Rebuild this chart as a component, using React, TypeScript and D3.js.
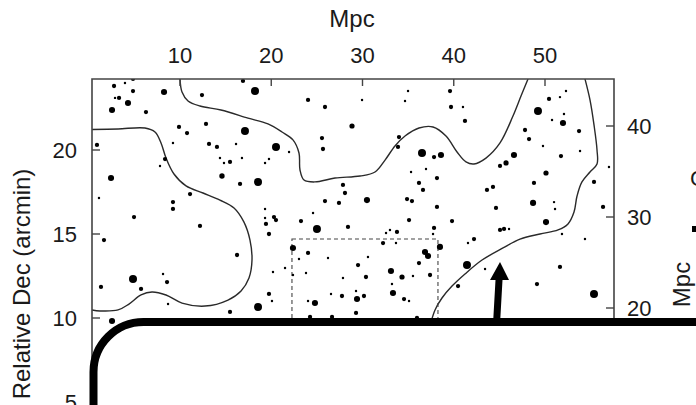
import React from "react";
import * as d3 from "d3";

// Axis ticks
const topTicks = [10, 20, 30, 40, 50]; // Mpc (top axis)
const leftTicks = [5, 10, 15, 20]; // Relative Dec (arcmin)
const rightTicks = [20, 30, 40]; // Mpc (right axis)

// Galaxies: [x in Mpc, relative Dec in arcmin, size class 1..4]
const galaxies: [number, number, number][] = [
  [4.85, 24.23, 2], [3.97, 23.99, 1], [2.77, 23.81, 2], [4.85, 23.51, 2], [8.25, 23.45, 3],
  [2.88, 23.1, 1], [3.32, 23.1, 2], [4.3, 22.8, 3], [2.55, 22.38, 3], [6.27, 22.26, 2],
  [12.41, 23.27, 2], [16.9, 24.11, 2], [18.22, 23.51, 4], [9.89, 21.37, 2], [10.77, 21.01, 2],
  [12.85, 21.55, 2], [17.12, 21.13, 4], [0.9, 20.3, 2], [9.23, 20.42, 1], [13.18, 20.36, 2],
  [14.05, 20.18, 2], [16.14, 20.36, 1], [8.36, 19.46, 2], [7.81, 19.05, 1], [14.38, 19.52, 1],
  [14.82, 19.23, 1], [15.48, 19.29, 2], [16.79, 19.52, 1], [14.6, 18.45, 2.6], [2.44, 18.33, 3],
  [16.58, 17.98, 2], [18.55, 18.1, 4], [11.1, 17.38, 2], [1.12, 17.14, 1], [20.52, 20.18, 4],
  [19.32, 19.23, 1], [19.75, 19.46, 1], [21.95, 19.88, 1],
  [24.03, 22.98, 2], [25.89, 22.56, 2], [29.95, 22.98, 1], [34.66, 22.92, 1], [34.99, 23.51, 1],
  [28.85, 21.43, 2.5], [25.56, 20.71, 2], [25.67, 20.06, 2], [34.0, 20.77, 2], [33.89, 20.18, 2],
  [36.52, 19.82, 4], [37.84, 19.58, 2], [38.6, 19.7, 3], [36.96, 18.87, 1], [35.32, 18.69, 1],
  [36.19, 18.04, 2], [36.63, 17.62, 2], [38.16, 18.33, 2], [27.86, 17.92, 2], [28.08, 17.44, 2],
  [25.89, 16.96, 2], [27.42, 16.85, 2], [30.49, 17.02, 3], [34.88, 17.08, 2], [35.42, 16.96, 2],
  [38.16, 16.61, 2],
  [39.59, 23.51, 2], [39.7, 22.56, 2], [41.01, 22.56, 1], [41.23, 21.73, 2], [49.23, 22.32, 4],
  [50.44, 23.04, 2], [51.64, 23.15, 1], [52.3, 23.51, 1], [52.08, 22.14, 1], [50.77, 21.79, 1],
  [51.97, 21.61, 3], [53.73, 21.13, 2], [47.81, 21.19, 2], [48.25, 20.65, 2], [49.78, 20.24, 1],
  [53.84, 19.94, 1], [51.75, 19.64, 2], [46.6, 19.7, 3], [45.73, 19.23, 2.5], [45.07, 19.05, 2],
  [50.11, 18.63, 2.5], [48.79, 18.04, 2], [55.37, 18.1, 2], [57.01, 18.99, 1], [44.3, 17.8, 2],
  [43.64, 17.62, 2],
  [9.23, 16.9, 2], [9.23, 16.49, 2], [4.96, 16.01, 2], [12.19, 15.48, 2], [1.67, 14.64, 2],
  [16.25, 13.75, 2], [19.32, 16.49, 1], [19.32, 15.95, 1], [19.42, 15.6, 2], [4.85, 12.32, 4],
  [1.34, 11.85, 2], [5.73, 11.73, 2], [8.14, 12.62, 1], [8.58, 12.14, 2], [8.69, 10.83, 1],
  [15.48, 10.36, 2], [18.55, 10.65, 4], [2.55, 9.82, 3],
  [24.58, 16.25, 1], [20.3, 16.01, 2], [20.52, 15.83, 2], [23.26, 15.77, 2], [25.01, 15.3, 4],
  [28.41, 15.42, 2], [35.1, 15.83, 2], [19.75, 15.0, 2], [33.01, 15.24, 1], [32.58, 15.06, 1],
  [33.78, 15.12, 2], [37.84, 15.36, 2], [37.73, 15.0, 1], [32.25, 14.46, 2], [33.67, 14.46, 1],
  [22.38, 14.17, 3], [24.03, 13.87, 2], [26.22, 13.57, 1], [30.6, 13.63, 1], [36.85, 13.93, 3],
  [37.18, 13.69, 3], [38.49, 14.23, 3], [36.19, 13.27, 2], [23.04, 13.51, 1], [29.51, 13.15, 2],
  [21.51, 12.98, 1], [20.19, 12.74, 1], [22.38, 12.56, 1], [23.81, 12.68, 1], [33.12, 12.8, 3],
  [34.33, 12.44, 2.5], [30.38, 12.44, 2], [35.53, 12.5, 1], [37.4, 12.56, 2], [27.86, 12.38, 1],
  [33.23, 12.02, 1], [19.75, 11.43, 2], [20.08, 11.01, 1], [33.34, 11.49, 3], [26.55, 11.43, 1],
  [27.75, 11.31, 2], [29.29, 11.61, 1], [30.16, 11.31, 2], [29.4, 11.13, 3], [24.03, 11.01, 1],
  [24.79, 10.89, 3], [34.55, 11.13, 2], [35.1, 11.01, 1], [29.29, 10.3, 2], [26.66, 10.06, 2],
  [35.97, 10.0, 2], [24.25, 10.06, 2],
  [44.63, 16.55, 2], [48.69, 16.85, 3], [50.99, 16.9, 1], [51.1, 16.49, 1], [56.36, 16.61, 2],
  [39.81, 15.77, 2], [50.11, 15.71, 3], [45.07, 15.24, 2], [45.51, 15.3, 2], [46.06, 15.3, 1],
  [51.86, 15.0, 1], [54.38, 14.7, 1], [42.22, 14.7, 2], [41.56, 14.46, 1], [41.45, 13.15, 4],
  [43.43, 12.92, 1], [51.64, 13.04, 2], [40.47, 11.9, 2], [49.12, 12.02, 2], [55.37, 11.43, 4],
];

// Density contours: [x in Mpc, relative Dec in arcmin]
const contourWest: [number, number][] = [
  [0.36, 21.22], [3.21, 21.25], [6.16, 21.31], [7.26, 21.07], [7.92, 20.42], [8.47, 19.52],
  [9.34, 18.57], [10.66, 17.86], [12.52, 17.44], [14.38, 17.02], [15.92, 16.55], [17.01, 15.71],
  [17.67, 14.64], [17.89, 13.45], [17.56, 12.38], [16.69, 11.61], [15.26, 11.07], [12.74, 10.71],
  [10.22, 10.89], [8.47, 11.37], [6.93, 11.55], [5.73, 11.37], [4.41, 10.83], [3.21, 10.48],
  [1.23, 10.42], [0.36, 10.48],
];
const contourNorth: [number, number][] = [
  [10.0, 24.23], [10.22, 23.45], [10.88, 22.92], [12.19, 22.62], [14.49, 22.38], [17.45, 21.9],
  [19.64, 21.55], [21.18, 21.07], [22.38, 20.6], [23.04, 19.82], [23.15, 18.81], [23.59, 18.21],
  [24.79, 18.1], [26.99, 18.33], [29.73, 18.45], [31.37, 18.69], [32.47, 19.4], [33.56, 20.24],
  [34.66, 20.83], [36.19, 21.31], [37.73, 21.37], [39.15, 20.83], [40.36, 19.88], [41.34, 19.29],
  [42.22, 19.17], [43.53, 19.52], [45.07, 20.42], [46.49, 22.02], [47.37, 23.21], [48.14, 24.23],
];
const contourEast: [number, number][] = [
  [54.38, 24.23], [54.93, 22.98], [55.37, 21.49], [55.7, 20.0], [55.7, 19.17], [54.93, 18.69],
  [54.05, 18.1], [53.51, 17.26], [53.18, 16.31], [52.52, 15.6], [51.43, 15.24], [49.45, 15.0],
  [47.26, 14.7], [45.4, 14.17], [43.1, 13.45], [41.23, 12.62], [39.81, 11.9], [38.71, 11.19],
  [37.95, 10.48], [37.4, 9.58], [36.85, 8.69],
];

// Zoomed sub-region (dashed box): x range in Mpc, Dec range in arcmin
const subX = [22.27, 38.27];
const subDec = [5, 14.7];

export default function App() {
  const W = 696, H = 405;
  const left = 92, right = 614, top = 79, bottom = 480;
  const x = d3.scaleLinear().domain([0, 10]).range([88.75, 180]);
  const y = d3.scaleLinear().domain([0, 20]).range([486, 150]);
  const yR = d3.scaleLinear().domain([0, 40]).range([490, 126]);
  const r = d3.scaleLinear().domain([1, 4]).range([1.2, 4.0]);
  const line = d3
    .line<[number, number]>()
    .x((d) => x(d[0]))
    .y((d) => y(d[1]))
    .curve(d3.curveCatmullRom.alpha(0.5));

  const font = "'Liberation Sans', Arial, Helvetica, sans-serif";
  const axisColor = "#444";
  const textColor = "#1a1a1a";

  return (
    <svg
      width={W}
      height={H}
      style={{ position: "absolute", left: 0, top: 0, background: "#fff" }}
      fontFamily={font}
    >
      <defs>
        <clipPath id="plotclip">
          <rect x={left} y={top} width={right - left} height={bottom - top} />
        </clipPath>
      </defs>
      <rect x={0} y={0} width={W} height={H} fill="#fff" />

      <g clipPath="url(#plotclip)">
        {[contourWest, contourNorth, contourEast].map((c, i) => (
          <path key={i} d={line(c) || ""} fill="none" stroke="#2a2a2a" strokeWidth={1.4} />
        ))}
        <rect
          x={x(subX[0])}
          y={y(subDec[1])}
          width={x(subX[1]) - x(subX[0])}
          height={y(subDec[0]) - y(subDec[1])}
          fill="none"
          stroke="#444"
          strokeWidth={1.1}
          strokeDasharray="4 3"
        />
        {galaxies.map((g, i) => (
          <circle key={i} cx={x(g[0])} cy={y(g[1])} r={r(g[2])} fill="#000" />
        ))}
      </g>

      {/* frame */}
      <path
        d={`M${left},${bottom}V${top}H${right}V${bottom}`}
        fill="none"
        stroke={axisColor}
        strokeWidth={1.6}
      />

      {/* top axis */}
      {topTicks.map((t) => (
        <g key={"t" + t}>
          <line x1={x(t)} x2={x(t)} y1={top} y2={top + 7} stroke={axisColor} strokeWidth={1.4} />
          <text x={x(t)} y={63} textAnchor="middle" fontSize={22} fill={textColor}>
            {t}
          </text>
        </g>
      ))}
      <text x={352} y={27} textAnchor="middle" fontSize={24} fill={textColor}>
        Mpc
      </text>

      {/* left axis */}
      {leftTicks.map((t) => (
        <g key={"l" + t}>
          <line x1={left} x2={left + 8} y1={y(t)} y2={y(t)} stroke={axisColor} strokeWidth={1.4} />
          <text x={77} y={y(t) + 8} textAnchor="end" fontSize={22} fill={textColor}>
            {t}
          </text>
        </g>
      ))}
      <text
        transform="translate(30,284) rotate(-90)"
        textAnchor="middle"
        fontSize={24}
        fill={textColor}
      >
        Relative Dec (arcmin)
      </text>

      {/* right axis */}
      {rightTicks.map((t) => (
        <g key={"r" + t}>
          <line x1={right - 8} x2={right} y1={yR(t)} y2={yR(t)} stroke={axisColor} strokeWidth={1.4} />
          <text x={627} y={yR(t) + 8} textAnchor="start" fontSize={22} fill={textColor}>
            {t}
          </text>
        </g>
      ))}
      <text
        transform="translate(690,284.5) rotate(-90)"
        textAnchor="middle"
        fontSize={24}
        fill={textColor}
      >
        Mpc
      </text>

      {/* partially visible neighbouring annotation */}
      <text x={690} y={186} fontSize={22} fill={textColor}>
        C
      </text>
      <rect x={692} y={226} width={6} height={6} fill="#000" />

      {/* overlay callout box */}
      <rect
        x={93.5}
        y={322}
        width={900}
        height={400}
        rx={50}
        ry={50}
        fill="#fff"
        stroke="#000"
        strokeWidth={8}
      />

      {/* arrow */}
      <path
        d="M493,324 L495.5,280 L490,280 L500,262 L509,280 L502.5,280 L500,324 Z"
        fill="#000"
      />
    </svg>
  );
}
